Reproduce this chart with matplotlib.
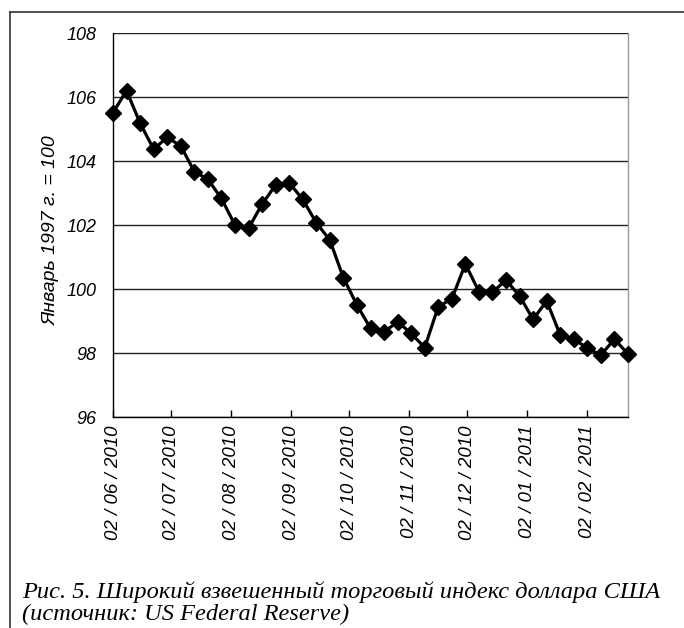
import matplotlib
matplotlib.use("Agg")
import matplotlib.pyplot as plt
import matplotlib.dates as mdates
from matplotlib.lines import Line2D
import pandas as pd

# Weekly observations of the broad trade-weighted US dollar index
start_date = "2010-06-02"
index_values = [
    105.51, 106.20, 105.18, 104.37, 104.74, 104.47, 103.67, 103.43, 102.83,
    102.00, 101.90, 102.65, 103.25, 103.32, 102.80, 102.07, 101.53, 100.35,
    99.50, 98.77, 98.65, 98.98, 98.61, 98.17, 99.45, 99.69, 100.78, 99.92,
    99.90, 100.28, 99.78, 99.05, 99.63, 98.56, 98.44, 98.15, 97.94, 98.43,
    97.97,
]
dates = pd.date_range(start_date, periods=len(index_values), freq="7D")

tick_dates = pd.to_datetime([
    "2010-06-02", "2010-07-02", "2010-08-02", "2010-09-02", "2010-10-02",
    "2010-11-02", "2010-12-02", "2011-01-02", "2011-02-02",
])
y_ticks = [96, 98, 100, 102, 104, 106, 108]
y_label = "Январь 1997 г. = 100"
caption_1 = "Рис. 5. Широкий взвешенный торговый индекс доллара США"
caption_2 = "(источник: US Federal Reserve)"

W, H = 684, 628
fig = plt.figure(figsize=(W / 100, H / 100), dpi=100)
fig.patch.set_facecolor("white")

ax = fig.add_axes([113 / W, 1 - 417 / H, 515 / W, 384 / H])
ax.plot(dates, index_values, color="black", lw=2.3, marker="D", ms=8.5,
        markerfacecolor="black", markeredgecolor="black", zorder=3,
        clip_on=False)

ax.set_xlim(dates[0], dates[-1])
ax.set_ylim(96, 108)
ax.set_yticks(y_ticks)
ax.yaxis.grid(True, color="#222222", lw=1.0)
ax.set_axisbelow(True)

ax.set_xticks(list(tick_dates))
ax.xaxis.set_major_formatter(mdates.DateFormatter("%d / %m / %Y"))

for lab in ax.get_xticklabels():
    lab.set(rotation=90, family="Liberation Sans", style="italic", size=13.5)
for lab in ax.get_yticklabels():
    lab.set(family="Liberation Sans", style="italic", size=13)
ax.tick_params(axis="x", direction="in", length=5, width=1, pad=6, color="black")
ax.tick_params(axis="y", direction="out", length=0, pad=12)

for side in ("left", "bottom"):
    ax.spines[side].set_color("black")
    ax.spines[side].set_linewidth(1.0)
ax.spines["top"].set_visible(False)
ax.spines["right"].set_color("#999999")
ax.spines["right"].set_linewidth(1.0)

ax.set_ylabel(y_label, fontfamily="Liberation Sans", fontstyle="italic", fontsize=14)
ax.yaxis.set_label_coords(-0.104, 0.486)

# outer frame (top and left edges)
fig.add_artist(Line2D([10 / W, 1.0], [1 - 12 / H, 1 - 12 / H], color="#333333", lw=1.2,
                      transform=fig.transFigure))
fig.add_artist(Line2D([10 / W, 10 / W], [1 - 12 / H, 0.0], color="#333333", lw=1.2,
                      transform=fig.transFigure))

cap_font = dict(family="Liberation Serif", style="italic", size=17.6, color="black")
fig.text(22 / W, 1 - 598 / H, caption_1, va="baseline", ha="left", **cap_font)
fig.text(22 / W, 1 - 620 / H, caption_2, va="baseline", ha="left", **cap_font)

fig.savefig("out.png", dpi=100)
